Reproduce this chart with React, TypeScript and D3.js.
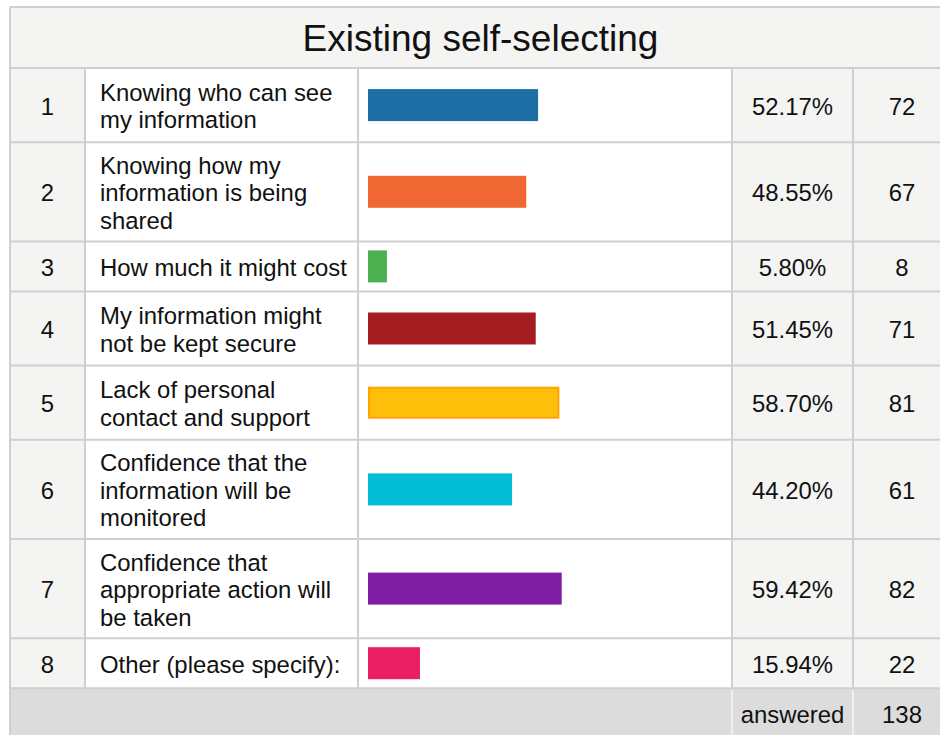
import React from "react";
import * as d3 from "d3";

const title = "Existing self-selecting";
const rowNumbers = ["1", "2", "3", "4", "5", "6", "7", "8"];
const labels: string[][] = [
  ["Knowing who can see", "my information"],
  ["Knowing how my", "information is being", "shared"],
  ["How much it might cost"],
  ["My information might", "not be kept secure"],
  ["Lack of personal", "contact and support"],
  ["Confidence that the", "information will be", "monitored"],
  ["Confidence that", "appropriate action will", "be taken"],
  ["Other (please specify):"],
];
const percents = [52.17, 48.55, 5.8, 51.45, 58.7, 44.2, 59.42, 15.94];
const percentLabels = ["52.17%", "48.55%", "5.80%", "51.45%", "58.70%", "44.20%", "59.42%", "15.94%"];
const counts = [72, 67, 8, 71, 81, 61, 82, 22];
const barColors = ["#1e6ea6", "#f06935", "#4caf50", "#a31d20", "#fdbf0a", "#00bcd4", "#7e1fa3", "#e91e63"];
const barStrokes = [null, null, null, null, "#ffa400", null, null, null];
const footerLabel = "answered";
const answeredTotal = 138;

const W = 940;
const H = 735;
const FONT = "'Liberation Sans', Arial, sans-serif";
const FS = 23.9;
const LH = 27.5;
const GRID = "#cfcfcf";
const SHADE = "#f4f4f3";

export default function App() {
  const cols = [10, 85, 358, 732, 853, 951];
  const titleTop = 7;
  const titleBottom = 68;

  const heights = labels.map((l) => Math.max(50, 25 * l.length + 24.2));
  const tops: number[] = [];
  let acc = titleBottom;
  heights.forEach((h) => {
    tops.push(acc);
    acc += h;
  });
  const footerTop = acc;
  const footerBottom = footerTop + 52;

  const x = d3.scaleLinear().domain([0, 100]).range([0, 326]);
  const barX = cols[2] + 10;
  const barH = 32;

  const textY = (center: number, i: number, n: number) =>
    center + (i - (n - 1) / 2) * LH + FS * 0.355 + 1;

  return (
    <div style={{ position: "fixed", left: 0, top: 0, width: W, height: H, overflow: "hidden", background: "#fff" }}>
      <svg width={W} height={H} style={{ display: "block" }} fontFamily={FONT}>
        <rect x={0} y={0} width={W} height={H} fill="#fff" />
        {/* title */}
        <rect x={cols[0]} y={titleTop} width={cols[5] - cols[0]} height={titleBottom - titleTop} fill={SHADE} />
        <text
          x={(cols[0] + cols[5]) / 2}
          y={(titleTop + titleBottom) / 2 + 37 * 0.355}
          textAnchor="middle"
          fontSize={37}
          fill="#111"
        >
          {title}
        </text>

        {/* rows */}
        {labels.map((lines, r) => {
          const top = tops[r];
          const h = heights[r];
          const cy = top + h / 2;
          const stroke = barStrokes[r];
          return (
            <g key={r}>
              <rect x={cols[0]} y={top} width={cols[1] - cols[0]} height={h} fill={SHADE} />
              <rect x={cols[1]} y={top} width={cols[3] - cols[1]} height={h} fill="#fff" />
              <rect x={cols[3]} y={top} width={cols[5] - cols[3]} height={h} fill={SHADE} />
              <text x={(cols[0] + cols[1]) / 2} y={textY(cy, 0, 1)} textAnchor="middle" fontSize={FS} fill="#111">
                {rowNumbers[r]}
              </text>
              {lines.map((ln, i) => (
                <text key={i} x={cols[1] + 15} y={textY(cy, i, lines.length)} fontSize={FS} fill="#111">
                  {ln}
                </text>
              ))}
              {stroke ? (
                <rect
                  x={barX + 1}
                  y={cy - barH / 2 + 1}
                  width={x(percents[r]) - 2}
                  height={barH - 2}
                  fill={barColors[r]}
                  stroke={stroke}
                  strokeWidth={2}
                />
              ) : (
                <rect x={barX} y={cy - barH / 2} width={x(percents[r])} height={barH} fill={barColors[r]} />
              )}
              <text x={(cols[3] + cols[4]) / 2} y={textY(cy, 0, 1)} textAnchor="middle" fontSize={FS} fill="#111">
                {percentLabels[r]}
              </text>
              <text x={(cols[4] + cols[5]) / 2} y={textY(cy, 0, 1)} textAnchor="middle" fontSize={FS} fill="#111">
                {counts[r]}
              </text>
            </g>
          );
        })}

        {/* footer */}
        <rect x={cols[0]} y={footerTop} width={cols[5] - cols[0]} height={footerBottom - footerTop} fill="#dcdcdc" />
        <line x1={cols[3]} x2={cols[3]} y1={footerTop + 2} y2={footerBottom} stroke="#f6f6f6" strokeWidth={1.5} />
        <line x1={cols[4]} x2={cols[4]} y1={footerTop + 2} y2={footerBottom} stroke="#f6f6f6" strokeWidth={1.5} />
        <text x={(cols[3] + cols[4]) / 2} y={(footerTop + footerBottom) / 2 + FS * 0.355} textAnchor="middle" fontSize={FS} fill="#111">
          {footerLabel}
        </text>
        <text x={(cols[4] + cols[5]) / 2} y={(footerTop + footerBottom) / 2 + FS * 0.355} textAnchor="middle" fontSize={FS} fill="#111">
          {answeredTotal}
        </text>

        {/* grid lines */}
        {[titleTop, titleBottom, ...tops.slice(1), footerTop].map((y, i) => (
          <line key={"h" + i} x1={cols[0]} x2={cols[5]} y1={y} y2={y} stroke={GRID} strokeWidth={2} />
        ))}
        {cols.slice(1, 5).map((cx, i) => (
          <line key={"v" + i} x1={cx} x2={cx} y1={titleBottom} y2={footerTop} stroke={GRID} strokeWidth={2} />
        ))}
        <line x1={cols[0]} x2={cols[0]} y1={titleTop} y2={footerBottom} stroke={GRID} strokeWidth={2} />
        <line x1={cols[5]} x2={cols[5]} y1={titleTop} y2={footerBottom} stroke={GRID} strokeWidth={2} />
      </svg>
    </div>
  );
}
